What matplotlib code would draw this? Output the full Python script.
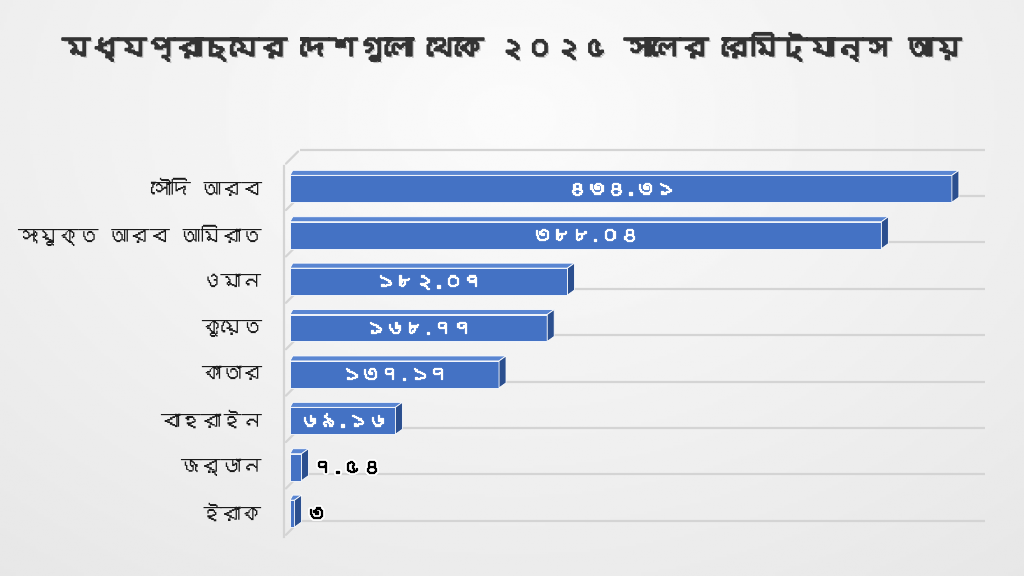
import matplotlib
matplotlib.use("Agg")
import matplotlib.pyplot as plt
import matplotlib.patheffects as pe
import matplotlib.transforms as mtransforms
from matplotlib.patches import Polygon
from matplotlib import font_manager
from matplotlib.ft2font import FT2Font
import numpy as np

# --- data ---
title = "মধ্যপ্রাচ্যের দেশগুলো থেকে ২০২৫ সালের রেমিট্যান্স আয়"
countries = ["সৌদি আরব", "সংযুক্ত আরব আমিরাত", "ওমান", "কুয়েত",
             "কাতার", "বাহরাইন", "জর্ডান", "ইরাক"]
values = [434.31, 388.04, 182.07, 168.77, 137.17, 69.16, 7.54, 3]
value_labels = ["৪৩৪.৩১", "৩৮৮.০৪", "১৮২.০৭", "১৬৮.৭৭",
                "১৩৭.১৭", "৬৯.১৬", "৭.৫৪", "৩"]


def find_family(ch):
    """First installed family that has a glyph for ch."""
    seen = set()
    for f in font_manager.fontManager.ttflist:
        if f.fname in seen:
            continue
        seen.add(f.fname)
        try:
            if ord(ch) in FT2Font(f.fname).get_charmap():
                return f.name
        except Exception:
            pass
    return None


def fit_width(txt, max_px, renderer):
    """Shrink a text until it is no wider than max_px."""
    w = txt.get_window_extent(renderer).width
    if w > max_px:
        txt.set_fontsize(txt.get_fontsize() * max_px / w)


beng = find_family("ক")
families = ([beng] if beng else []) + ["Noto Sans", "DejaVu Sans"]
plt.rcParams["font.family"] = families

c_front = "#4472c4"
c_side = "#2b4f8f"
c_top = "#5a86d2"
c_grid = "#d4d4d4"
px = 1.524  # px per unit on the value axis

fig = plt.figure(figsize=(10.24, 5.76), dpi=100)
renderer = fig.canvas.get_renderer()

# background gradient
bg = fig.add_axes([0, 0, 1, 1], zorder=-10)
yy, xx = np.mgrid[0:1:200j, 0:1:360j]
r = np.sqrt(((xx - 0.5) / 0.85) ** 2 + ((yy - 0.2) / 1.1) ** 2)
bg.imshow(0.985 - 0.085 * r, cmap="gray", vmin=0, vmax=1, aspect="auto",
          extent=[0, 1, 0, 1], origin="upper")
bg.axis("off")

ax = fig.add_axes([290 / 1024, 1 - 536.8 / 576, 695 / 1024, 371.2 / 576])
ax.set_xlim(0, 695 / px)
n = len(countries)
ax.set_ylim(n - 0.5, -0.5)
ax.axis("off")

# back-wall gridlines, shifted up/right like the 3D floor
back = mtransforms.offset_copy(ax.transData, fig=fig, x=10 * 0.72, y=16 * 0.72, units="points")
bounds = np.arange(n + 1) - 0.5
for b in bounds:
    ax.plot([0, 685 / px], [b, b], color=c_grid, lw=1.6, transform=back,
            solid_capstyle="butt", zorder=1, clip_on=False)
    ax.annotate("", xy=(0, b), xycoords=back, xytext=(-6 / px, b),
                textcoords="data", arrowprops=dict(arrowstyle="-", color=c_grid, lw=1.6))
ax.plot([-6 / px, -6 / px], [-0.5, n - 0.5], color=c_grid, lw=1.6, clip_on=False, zorder=1)

# bars with a bit of depth
h = 0.58
dx = 7 / px
dy = 5 / 46.4
y = np.arange(n)
ax.barh(y, values, height=h, color=c_front, edgecolor="white", linewidth=0.6, zorder=3)
for yi, v in zip(y, values):
    top = yi - h / 2
    bot = yi + h / 2
    ax.add_patch(Polygon([(0, top), (dx * 0.4, top - dy), (v + dx, top - dy), (v, top)],
                         closed=True, facecolor=c_top, edgecolor="white", lw=0.6, zorder=3))
    ax.add_patch(Polygon([(v, top), (v + dx, top - dy), (v + dx, bot - dy), (v, bot)],
                         closed=True, facecolor=c_side, edgecolor="white", lw=0.6, zorder=3))

# value labels (stroke of the text colour thickens the strokes a little)
for yi, v, lab in zip(y, values, value_labels):
    if v > 40:
        t = ax.text(v / 2, yi, lab, ha="center", va="center", color="white",
                    fontsize=14, fontweight="bold", zorder=5,
                    path_effects=[pe.withStroke(linewidth=0.9, foreground="white")])
        fit_width(t, v * px - 12, renderer)
    else:
        ax.text(v + dx + 3, yi, lab, ha="left", va="center", color="black",
                fontsize=14, fontweight="bold", zorder=5,
                path_effects=[pe.withStroke(linewidth=3.5, foreground="white"),
                              pe.withStroke(linewidth=0.9, foreground="black")])

# category labels
labels = []
for yi, name in zip(y, countries):
    labels.append(ax.text(-28 / px, yi, name, ha="right", va="center",
                          color="#1a1a1a", fontsize=16, clip_on=False))
widest = max(t.get_window_extent(renderer).width for t in labels)
if widest > 245:
    for t in labels:
        t.set_fontsize(16 * 245 / widest)

tt = fig.text(0.5, 1 - 47 / 576, title, ha="center", va="center", fontsize=24,
              fontweight="bold", color="#333333",
              path_effects=[pe.withSimplePatchShadow(offset=(1.5, -1.5), shadow_rgbFace="#9a9a9a", alpha=0.6),
                            pe.withStroke(linewidth=1.4, foreground="#333333")])
fit_width(tt, 900, renderer)

fig.savefig("out.png", dpi=100)
